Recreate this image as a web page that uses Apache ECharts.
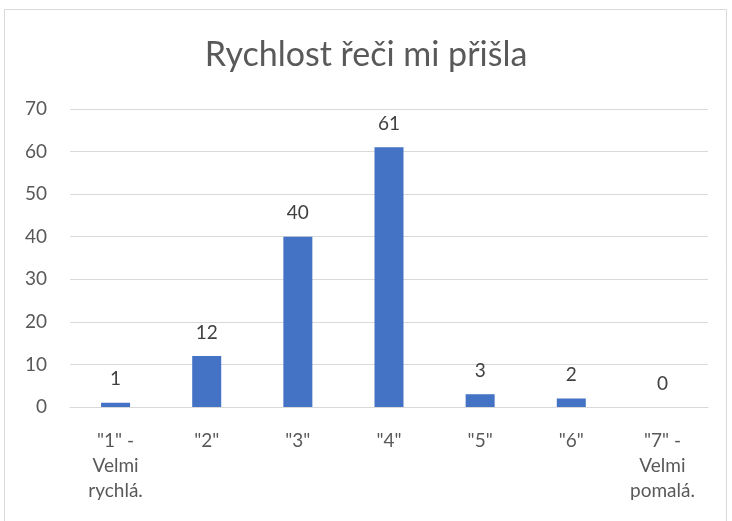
<!DOCTYPE html>
<html><head><meta charset="utf-8">
<script src="https://cdn.jsdelivr.net/npm/echarts@6/dist/echarts.min.js"></script>
<style>html,body{margin:0;padding:0;background:#fff}#c{width:732px;height:521px}</style>
</head><body><div id="c"></div>
<script>
const title = 'Rychlost řeči mi přišla';
const categories = ['"1" -\nVelmi\nrychlá.', '"2"', '"3"', '"4"', '"5"', '"6"', '"7" -\nVelmi\npomalá.'];
const values = [1, 12, 40, 61, 3, 2, 0];
const yTicks = {min: 0, max: 70, interval: 10};

const chart = echarts.init(document.getElementById('c'));
const font = 'Lato, "Open Sans", sans-serif';
chart.setOption({
  animation: false,
  graphic: [{type: 'rect', shape: {x: 4.5, y: 9.5, width: 722, height: 520}, style: {fill: 'none', stroke: '#d9d9d9', lineWidth: 1}, silent: true}],
  title: {text: title, left: 'center', top: 38, padding: [0, 0, 0, 16], textStyle: {fontFamily: font, fontSize: 34, fontWeight: 'normal', color: '#595959'}},
  grid: {left: 70, right: 24, top: 109, bottom: 114, containLabel: false},
  xAxis: {type: 'category', data: categories,
    axisLine: {lineStyle: {color: '#d9d9d9', width: 1}}, axisTick: {show: false},
    axisLabel: {fontFamily: font, fontSize: 19, color: '#595959', lineHeight: 25, margin: 21, interval: 0}},
  yAxis: {type: 'value', min: yTicks.min, max: yTicks.max, interval: yTicks.interval,
    axisLine: {show: false}, axisTick: {show: false},
    splitLine: {lineStyle: {color: '#d9d9d9', width: 1}},
    axisLabel: {fontFamily: font, fontSize: 19, color: '#595959', margin: 23}},
  series: [{type: 'bar', data: values, barWidth: 29, itemStyle: {color: '#4472C4'},
    label: {show: true, position: 'top', distance: 14, fontFamily: font, fontSize: 19, color: '#404040'}}]
});
</script></body></html>
